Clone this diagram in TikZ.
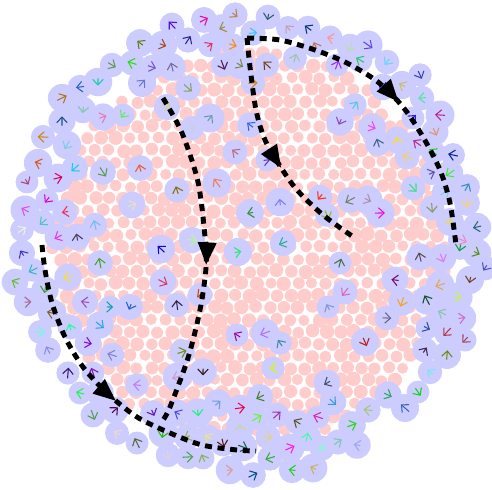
\documentclass[tikz,border=0pt]{standalone}
\usetikzlibrary{arrows.meta,decorations.markings}

\definecolor{grainpink}{RGB}{255,204,204}
\definecolor{disclilac}{RGB}{204,204,255}

\tikzset{
  grain/.style={fill=grainpink},
  disc/.style={fill=disclilac},
  velo/.style={line width=0.6pt, -{Straight Barb[length=3.2pt,width=6pt]}},
  flowline/.style={line width=2.8pt, dash pattern=on 4pt off 3.2pt,
    postaction={decorate, decoration={markings,
      mark=at position #1 with {\arrow{Triangle[length=13pt,width=10pt]}}}}},
}

\begin{document}
\begin{tikzpicture}[x=0.02cm, y=-0.02cm]
    \useasboundingbox (0,0) rectangle (492,489);
    \pgfmathsetseed{4242}

    % packed small grains
    \foreach \i in {-15,...,15}{
      \foreach \j in {-17,...,17}{
        \pgfmathsetmacro{\px}{249+14*\i+7*mod(\j+20,2)+1.2*rand}
        \pgfmathsetmacro{\py}{247+12.1*\j+1.2*rand}
        \pgfmathsetmacro{\pr}{6.4+0.9*rand}
        \pgfmathtruncatemacro{\inside}{veclen((\px-249)/10,(\py-247)/10)<19.8}
        \ifnum\inside=1 \fill[grain] (\px,\py) circle (\pr); \fi
      }
    }

    \def\discs{(204,20),(235,15),(172,25),(222,28),(140,43),(163,45),(188,40),(210,45),(233,45),
      (112,65),(132,63),(152,67),(172,67),(80,87),(98,82),(142,83),(188,88),(223,65),(240,65),
      (62,98),(83,110),(103,117),(123,115),(167,107),(210,118),(192,128),(62,121),(43,137),
      (67,145),(38,163),(58,178),(75,168),(103,172),(140,168),(177,190),(217,183),(235,152),
      (27,182),(47,200),(65,212),(95,225),(132,205),(25,210),(43,222),(22,230),(58,237),
      (77,237),(161,249),(192,240),(268,17),(288,28),(308,28),(253,33),(267,65),(295,58),
      (315,45),(330,38),(350,47),(368,45),(337,65),(360,60),(387,62),(420,75),(402,85),
      (383,87),(422,98),(440,115),(355,105),(340,122),(372,127),(413,118),(435,132),(378,143),
      (397,140),(417,143),(433,152),(407,157),(453,155),(432,173),(450,173),(413,188),(445,192),
      (467,187),(432,208),(450,222),(467,203),(477,227),(462,240),(350,200),(368,200),(380,213),
      (320,197),(327,215),(280,202),(250,213),(267,160),(250,125),(253,83),(283,243),
      (15,282),(28,302),(33,270),(22,253),(45,290),(68,277),(52,313),(40,332),(48,350),(70,327),
      (85,302),(100,325),(110,307),(130,307),(88,343),(112,355),(68,373),(93,373),(80,393),
      (100,393),(93,415),(115,410),(117,433),(137,443),(153,413),(137,385),(100,263),(163,433),
      (177,413),(182,352),(177,377),(203,372),(200,295),(177,305),(163,282),(237,335),(238,252),
      (218,403),(240,408),(198,413),(187,437),(168,455),(188,457),(208,437),(203,458),(230,470),
      (223,443),(243,447),(340,263),(345,292),(328,307),(265,333),(280,343),(273,368),(365,342),
      (387,318),(395,280),(402,302),(420,257),(442,258),(460,248),(477,253),(485,268),(470,280),
      (440,285),(458,297),(427,300),(442,313),(462,318),(427,328),(447,332),(465,340),(447,355),
      (425,350),(430,372),(418,392),(405,408),(388,395),(368,410),(352,425),(357,445),(338,442),
      (322,448),(307,437),(318,417),(297,422),(333,402),(327,383),(290,448),(313,468),(292,470),
      (268,437),(257,418),(277,415),(260,397),(270,458),(253,475),(240,427)}

    % big discs
    \foreach \c in \discs{
      \pgfmathsetmacro{\rr}{13+1.6*rand}
      \fill[disc] \c circle (\rr);
    }

    % velocity arrows
    \foreach \c in \discs{
      \pgfmathsetmacro{\ang}{360*rnd}
      \pgfmathsetmacro{\len}{3+2.5*rnd}
      \pgfmathtruncatemacro{\cr}{255*rnd}
      \pgfmathtruncatemacro{\cg}{255*rnd}
      \pgfmathtruncatemacro{\cb}{255*rnd}
      \definecolor{velocol}{RGB}{\cr,\cg,\cb}
      \draw[velo, velocol] \c ++(\ang+180:\len) -- ++(\ang:2*\len);
    }

    % streamlines
    \draw[flowline=0.52] plot[smooth] coordinates {(163,98) (182,133) (198,182) (205,237)
      (206,268) (200,310) (188,358) (170,407) (163,420)};
    \draw[flowline=0.52] plot[smooth] coordinates {(247,38) (280,40) (315,50) (347,63)
      (378,82) (403,107) (423,137) (440,170) (450,203) (456,245)};
    \draw[flowline=0.58] plot[smooth] coordinates {(247,38) (250,67) (256,110) (265,140)
      (280,166) (297,190) (323,215) (352,236)};
    \draw[flowline=0.54] plot[smooth] coordinates {(42,245) (45,270) (52,303) (65,337)
      (83,367) (107,393) (137,417) (170,433) (202,445) (237,450) (256,451)};
\end{tikzpicture}
\end{document}
